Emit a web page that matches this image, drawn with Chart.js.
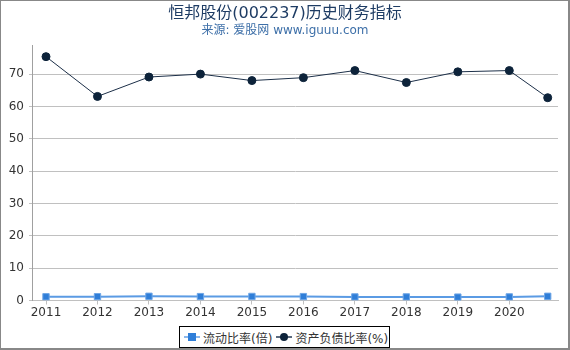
<!DOCTYPE html>
<html><head><meta charset="utf-8">
<script src="https://cdn.jsdelivr.net/npm/chart.js@4/dist/chart.umd.min.js"></script>
<style>
html,body{margin:0;padding:0;background:#fff;}
#wrap{position:relative;width:570px;height:350px;overflow:hidden;font-family:"DejaVu Sans","Noto Sans CJK SC",sans-serif;}
#frame{position:absolute;left:0;top:0;width:567px;height:347px;border-top:1px solid #888;border-left:1px solid #888;border-right:2px solid #888;border-bottom:2px solid #888;pointer-events:none;}
#title{position:absolute;left:0;width:570px;top:-1px;text-align:center;font-size:16px;color:#1e3c64;}
#sub{position:absolute;left:0;width:570px;top:20px;text-align:center;font-size:12px;color:#3d6fa8;}
#legend{position:absolute;left:179px;top:326px;height:20px;width:209px;border:1px solid #000;font-size:12px;color:#333;display:flex;align-items:center;white-space:nowrap;background:#fff;}
.mk{position:relative;display:inline-block;width:16px;height:10px;margin:0 3px 0 4px;}
.mk .ln{position:absolute;left:0;right:0;top:4px;height:2px;}
.mk .sq{position:absolute;left:4px;top:1px;width:8px;height:8px;background:#2f7ed8;}
.mk .ci{position:absolute;left:4px;top:1px;width:8px;height:8px;border-radius:50%;background:#0d233a;}
canvas{position:absolute;left:0;top:0;}
</style></head>
<body><div id="wrap">
<canvas id="c" width="570" height="350"></canvas>
<div id="title">恒邦股份(002237)历史财务指标</div>
<div id="sub">来源: 爱股网 www.iguuu.com</div>
<div id="legend"><span class="mk"><span class="ln" style="background:#8cb8ec"></span><span class="sq"></span></span>流动比率(倍)<span class="mk"><span class="ln" style="background:#5a6a7e"></span><span class="ci"></span></span>资产负债比率(%)</div>
<div id="frame"></div>
</div>
<script>
const periods = [2011, 2012, 2013, 2014, 2015, 2016, 2017, 2018, 2019, 2020, 2020.746];
const yearTicks = [2011, 2012, 2013, 2014, 2015, 2016, 2017, 2018, 2019, 2020];
const currentRatio = [1.15, 1.18, 1.3, 1.2, 1.25, 1.2, 1.1, 1.1, 1.05, 1.1, 1.3];
const debtRatio = [75.4, 63.1, 69.1, 70.0, 68.0, 68.9, 71.1, 67.4, 70.7, 71.1, 62.7];
const yTicks = [0, 10, 20, 30, 40, 50, 60, 70];
const seriesNames = ['流动比率(倍)', '资产负债比率(%)'];

const toXY = (arr) => arr.map((v, i) => ({x: periods[i], y: v}));

new Chart(document.getElementById('c'), {
  type: 'line',
  data: {
    datasets: [
      {label: seriesNames[0], data: toXY(currentRatio), borderColor: '#5b9be4', backgroundColor: '#2f7ed8',
       pointBackgroundColor: '#2f7ed8', pointBorderColor: '#6fa6e6', pointBorderWidth: 1, pointStyle: 'rect', pointRadius: 4.5, borderWidth: 2, tension: 0},
      {label: seriesNames[1], data: toXY(debtRatio), borderColor: '#1c2f48', backgroundColor: '#0d233a',
       pointBackgroundColor: '#0d233a', pointBorderColor: '#0d233a', pointStyle: 'circle', pointRadius: 4, borderWidth: 1, tension: 0}
    ]
  },
  options: {
    responsive: false, animation: false, devicePixelRatio: 1,
    layout: {padding: {top: 45, right: 12, left: 0, bottom: 0}},
    plugins: {legend: {display: false}, title: {display: false}, tooltip: {enabled: false}},
    scales: {
      x: {
        type: 'linear', min: 2010.728, max: 2020.946,
        afterBuildTicks: (s) => { s.ticks = yearTicks.map(v => ({value: v})); },
        afterFit: (s) => { s.height = 49.5; },
        ticks: {callback: (v) => String(v), color: '#333', font: {family: 'DejaVu Sans', size: 12}, padding: 1, maxRotation: 0, autoSkip: false},
        grid: {drawOnChartArea: false, drawTicks: true, tickLength: 4, color: '#c0c0c0'},
        border: {color: '#c0c0c0', width: 1}
      },
      y: {
        min: 0, max: 79,
        afterBuildTicks: (s) => { s.ticks = yTicks.map(v => ({value: v})); },
        afterFit: (s) => { s.width = 32; },
        ticks: {color: '#333', font: {family: 'DejaVu Sans', size: 12}, padding: 5},
        grid: {color: '#c0c0c0', tickLength: 3, lineWidth: 1},
        border: {color: '#a0a0a0', width: 1}
      }
    }
  }
});
</script>
</body></html>
